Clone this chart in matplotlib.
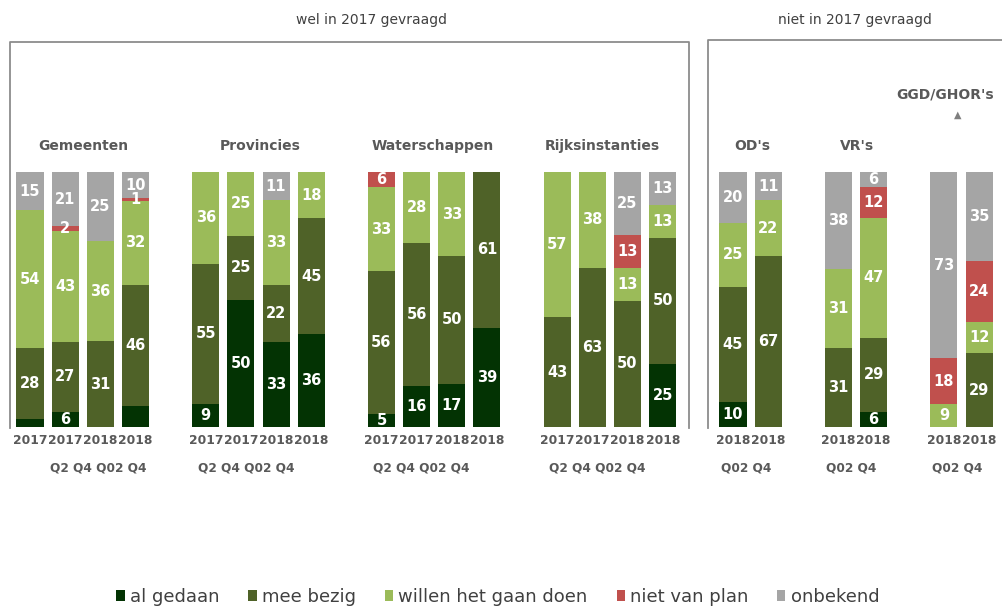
import numpy as np
import matplotlib
matplotlib.use("Agg")
import matplotlib.pyplot as plt
from matplotlib.patches import Patch
from matplotlib.lines import Line2D

# groepen en de bars per groep
groepen = ["Gemeenten", "Provincies", "Waterschappen", "Rijksinstanties", "OD's", "VR's", "GGD/GHOR's"]
aantal_bars = [4, 4, 4, 4, 2, 2, 2]
jaar = ["2017", "2017", "2018", "2018"] * 4 + ["2018", "2018"] * 3
kwartaal_rij = ["Q2 Q4 Q02 Q4"] * 4 + ["Q02 Q4"] * 3

# percentages per antwoord (22 bars)
al_gedaan = [3, 6, 0, 8, 9, 50, 33, 36, 5, 16, 17, 39, 0, 0, 0, 25, 10, 0, 0, 6, 0, 0]
mee_bezig = [28, 27, 31, 46, 55, 25, 22, 45, 56, 56, 50, 61, 43, 63, 50, 50, 45, 67, 31, 29, 0, 29]
willen = [54, 43, 36, 32, 36, 25, 33, 18, 33, 28, 33, 0, 57, 38, 13, 13, 25, 22, 31, 47, 9, 12]
niet_van_plan = [0, 2, 0, 1, 0, 0, 0, 0, 6, 0, 0, 0, 0, 0, 13, 0, 0, 0, 0, 12, 18, 24]
onbekend = [15, 21, 25, 10, 0, 0, 11, 0, 0, 0, 0, 0, 0, 0, 25, 13, 20, 11, 38, 6, 73, 35]

reeksen = ["al gedaan", "mee bezig", "willen het gaan doen", "niet van plan", "onbekend"]
kleuren = ["#033303", "#4F6228", "#9BBB59", "#C0504D", "#A5A5A5"]
# labels die in het origineel niet getoond worden
verborgen = {(0, 0), (0, 3)}

data = np.array([al_gedaan, mee_bezig, willen, niet_van_plan, onbekend], dtype=float)
aandeel = data / data.sum(axis=0) * 100

# x-posities: groepen met een lege plek ertussen
x = []
start = 0
for n in aantal_bars:
    x += list(range(start, start + n))
    start += n + 1
x = np.array(x)

W, H = 1003, 606
fig = plt.figure(figsize=(W / 100, H / 100), dpi=100)
ax = fig.add_axes([0, 0, 1, 1])
# pixel mapping: slot 0 -> 30 px, 35.15 px per slot; 0% -> 427 px, 100% -> 172 px
sx, x0 = 35.15, 30
sy, y0 = 2.55, 427
ax.set_xlim(-x0 / sx, (W - x0) / sx)
ax.set_ylim(-(H - y0) / sy, y0 / sy)
ax.axis("off")

def px(xp, yp):
    return (xp - x0) / sx, (y0 - yp) / sy

onder = np.zeros(len(x))
for i, r in enumerate(reeksen):
    ax.bar(x, aandeel[i], 0.77, bottom=onder, color=kleuren[i], label=r)
    for j in range(len(x)):
        if data[i, j] > 0 and (i, j) not in verborgen:
            ax.text(x[j], onder[j] + aandeel[i, j] / 2, f"{int(data[i, j])}", ha="center", va="center",
                    color="white", fontsize=10.5, fontweight="bold")
    onder += aandeel[i]

grijs = "#595959"
for j in range(len(x)):
    ax.text(x[j], px(0, 441)[1], jaar[j], ha="center", va="center", fontsize=8.8,
            fontweight="bold", color=grijs)

# groepstitels en kwartaal rij
titel_px = [(83, 146), (260, 146), (433, 146), (602, 146), (752, 146), (857, 146), (945, 95)]
q_px = [98, 246, 421, 597, 746, 851, 957]
for g, naam in enumerate(groepen):
    tx, ty = px(*titel_px[g])
    ax.text(tx, ty, naam, ha="center", va="center", fontsize=10, fontweight="bold", color=grijs)
    ax.text(px(q_px[g], 0)[0], px(0, 468)[1], kwartaal_rij[g], ha="center", va="center",
            fontsize=8.7, fontweight="bold", color=grijs)
ax.text(*px(958, 115), "▲", ha="center", va="center", fontsize=7, color="#7f7f7f")

# kaders
lijn = "#8C8C8C"
for xs, ys in [([10, 10, 689, 689], [428, 42, 42, 428]), ([708, 708, 1010], [428, 40, 40])]:
    fig.add_artist(Line2D([v / W for v in xs], [1 - v / H for v in ys], color=lijn, lw=1.3))
fig.text(372 / W, 1 - 20 / H, "wel in 2017 gevraagd", ha="center", va="center", fontsize=10, color="#404040")
fig.text(855 / W, 1 - 20 / H, "niet in 2017 gevraagd", ha="center", va="center", fontsize=10, color="#404040")

handles = [Patch(facecolor=k, label=r) for k, r in zip(kleuren, reeksen)]
leg = fig.legend(handles=handles, loc="center", bbox_to_anchor=(498 / W, 1 - 597 / H), ncol=5,
                 frameon=False, fontsize=13, handlelength=0.45, handleheight=0.6, handletextpad=0.3,
                 columnspacing=1.6)
for t in leg.get_texts():
    t.set_color("#404040")

fig.savefig("out.png", dpi=100)
